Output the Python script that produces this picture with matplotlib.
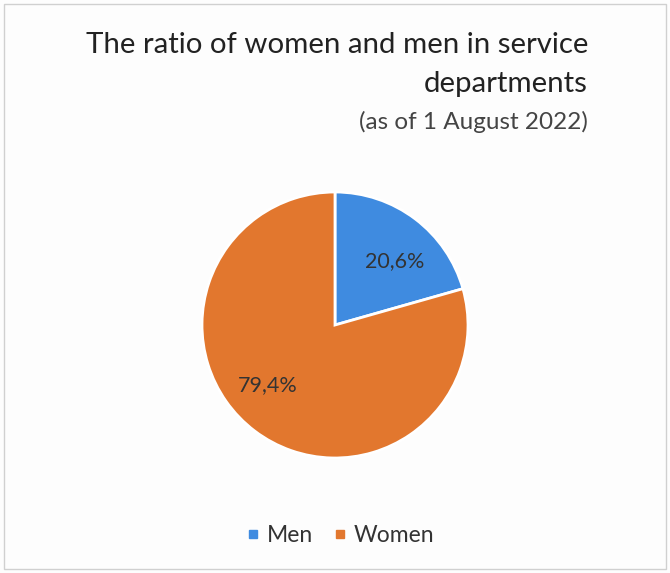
import matplotlib
matplotlib.use("Agg")
import matplotlib.pyplot as plt
from matplotlib.patches import Rectangle
from matplotlib.lines import Line2D
import numpy as np

categories = ["Men", "Women"]
values = [20.6, 79.4]
labels = ["20,6%", "79,4%"]
colors = ["#3f8be0", "#e2772e"]

plt.rcParams['font.family'] = ['Lato', 'DejaVu Sans']

W, H = 670, 573
fig = plt.figure(figsize=(W/100, H/100), dpi=100)
fig.patch.set_facecolor("#fdfdfd")

fig.patches.append(Rectangle((4/W, 4/H), 1-8/W, 1-8/H, transform=fig.transFigure,
                             fill=False, edgecolor="#d0d0d0", linewidth=1))

r = 133
ax = fig.add_axes([(335-r)/W, 1-(325+r)/H, 2*r/W, 2*r/H])
wedges, _ = ax.pie(values, colors=colors, startangle=90, counterclock=False,
                   wedgeprops=dict(edgecolor="white", linewidth=2))
ax.set_xlim(-1, 1); ax.set_ylim(-1, 1)
ax.set_aspect("equal")

cum = 0
for v, lab in zip(values, labels):
    mid = 90 - (cum + v/2) * 3.6
    cum += v
    rr = 0.66 if v < 50 else 0.68
    off = -6 if v < 50 else -11
    ax.text(rr*np.cos(np.radians(mid+off)), rr*np.sin(np.radians(mid+off)), lab,
            ha="center", va="center", fontsize=15.5, color="#333333")

fig.text(588/W, 1-45/H, "The ratio of women and men in service", ha="right", va="center",
         fontsize=21.2, color="#222222")
fig.text(588/W, 1-84/H, "departments", ha="right", va="center", fontsize=21.2, color="#222222")
fig.text(588/W, 1-122/H, "(as of 1 August 2022)", ha="right", va="center", fontsize=17.5,
         color="#444444")

handles = [Line2D([0], [0], marker="s", linestyle="none", markersize=6,
                  markerfacecolor=c, markeredgecolor=c) for c in colors]
fig.legend(handles, categories, loc="center", bbox_to_anchor=(338/W, 1-536/H),
           ncol=2, frameon=False, fontsize=16.5, handletextpad=0.1, columnspacing=0.7,
           handlelength=1.0, labelcolor="#333333")

fig.savefig("out.png", dpi=100, facecolor=fig.get_facecolor())
